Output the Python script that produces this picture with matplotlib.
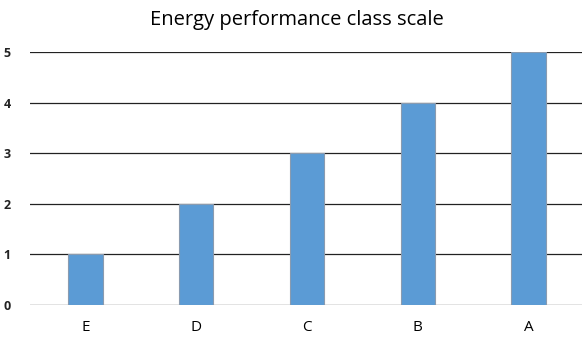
import matplotlib
matplotlib.use('Agg')
import matplotlib.pyplot as plt

plt.rcParams['font.family'] = ['Open Sans', 'DejaVu Sans']

classes = ['E', 'D', 'C', 'B', 'A']
scores = [1, 2, 3, 4, 5]
yticks = [0, 1, 2, 3, 4, 5]

fig = plt.figure(figsize=(5.82, 3.42), dpi=100)
ax = fig.add_axes([30 / 582, 37 / 342, 554 / 582, 253 / 342])

ax.bar(range(len(classes)), scores, width=0.31, color='#5b9bd5',
       edgecolor='#8a9bb0', linewidth=0.8, zorder=3)

ax.set_xlim(-0.5, len(classes) - 0.5)
ax.set_ylim(0, 5)
ax.set_yticks(yticks)
ax.set_xticks(range(len(classes)))
ax.set_xticklabels(classes, fontsize=11)
ax.set_yticklabels([str(t) for t in yticks], fontsize=9, fontweight='bold', color='#222222')
ax.tick_params(length=0)
ax.tick_params(axis='y', pad=14)
ax.tick_params(axis='x', pad=11)
ax.grid(axis='y', color='#222222', linewidth=0.9, zorder=0)
for s in ax.spines.values():
    s.set_visible(False)

fig.text(297 / 582, 1 - 20 / 342, 'Energy performance class scale',
         ha='center', va='center', fontsize=14.5)

fig.savefig('out.png', dpi=100)
